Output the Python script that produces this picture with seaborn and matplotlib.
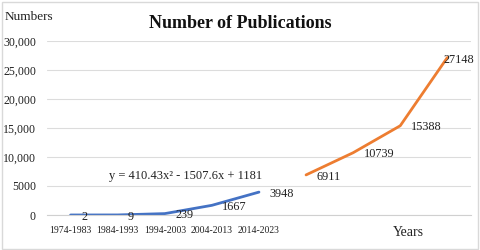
import seaborn as sns
import pandas as pd
import matplotlib.pyplot as plt
from matplotlib.ticker import FuncFormatter

# categories (only the first five are labelled on the axis)
periods = ["1974-1983", "1984-1993", "1994-2003", "2004-2013", "2014-2023"]
n_slots = 9

# actual counts per decade
actual = [2, 9, 239, 1667, 3948]
# forecast counts for the following decades
forecast = [6911, 10739, 15388, 27148]

yticks = [0, 5000, 10000, 15000, 20000, 25000, 30000]

BLUE = "#4472C4"
ORANGE = "#ED7D31"
SERIF = "Liberation Serif"


def main():
    df_a = pd.DataFrame({"pos": range(len(actual)), "value": actual})
    df_f = pd.DataFrame({"pos": range(len(actual), len(actual) + len(forecast)),
                         "value": forecast})

    sns.set_style("white")
    plt.rcParams["font.family"] = [SERIF, "DejaVu Serif"]

    fig = plt.figure(figsize=(4.8, 2.5), dpi=100)
    ax = fig.add_axes([0.098, 0.14, 0.883, 0.696])

    sns.lineplot(data=df_a, x="pos", y="value", color=BLUE, linewidth=2, ax=ax)
    sns.lineplot(data=df_f, x="pos", y="value", color=ORANGE, linewidth=2, ax=ax)

    for df in (df_a, df_f):
        for p, v in zip(df["pos"], df["value"]):
            off = (-3, -2) if v == forecast[-1] else (7.5, -1.2)
            ax.annotate(str(v), (p, v), xytext=off, textcoords="offset points",
                        ha="left", va="center", fontsize=8.8, color="#222222")

    ax.set_xlim(-0.5, n_slots - 0.5)
    ax.set_ylim(0, 30000)
    ax.set_yticks(yticks)
    ax.yaxis.set_major_formatter(FuncFormatter(
        lambda v, _: "0" if v == 0 else ("5000" if v == 5000 else f"{int(v):,}")))
    ax.set_xticks(range(len(periods)))
    ax.set_xticklabels(periods)
    ax.tick_params(axis="x", labelsize=7, length=0, pad=8, labelcolor="#222222")
    ax.tick_params(axis="y", labelsize=8.6, length=0, pad=8, labelcolor="#222222")

    ax.grid(axis="y", color="#dcdcdc", linewidth=0.8)
    ax.set_axisbelow(True)
    for s in ("top", "right", "left"):
        ax.spines[s].set_visible(False)
    ax.spines["bottom"].set_color("#d0d0d0")
    ax.set_xlabel("")
    ax.set_ylabel("")

    ax.text(2.44, 6750, "y = 410.43x² - 1507.6x + 1181", ha="center", va="center",
            fontsize=9, color="#222222")

    fig.text(0.5, 0.905, "Number of Publications", ha="center", va="center",
             fontsize=13, fontweight="bold", color="#111111")
    fig.text(0.01, 0.93, "Numbers", ha="left", va="center", fontsize=9.5, color="#222222")
    fig.text(0.85, 0.07, "Years", ha="center", va="center", fontsize=10, color="#222222")

    fig.patches.append(plt.Rectangle((0.004, 0.006), 0.992, 0.988, transform=fig.transFigure,
                                     fill=False, edgecolor="#d9d9d9", linewidth=1))

    fig.savefig("out.png", dpi=100)


if __name__ == '__main__':
    main()
